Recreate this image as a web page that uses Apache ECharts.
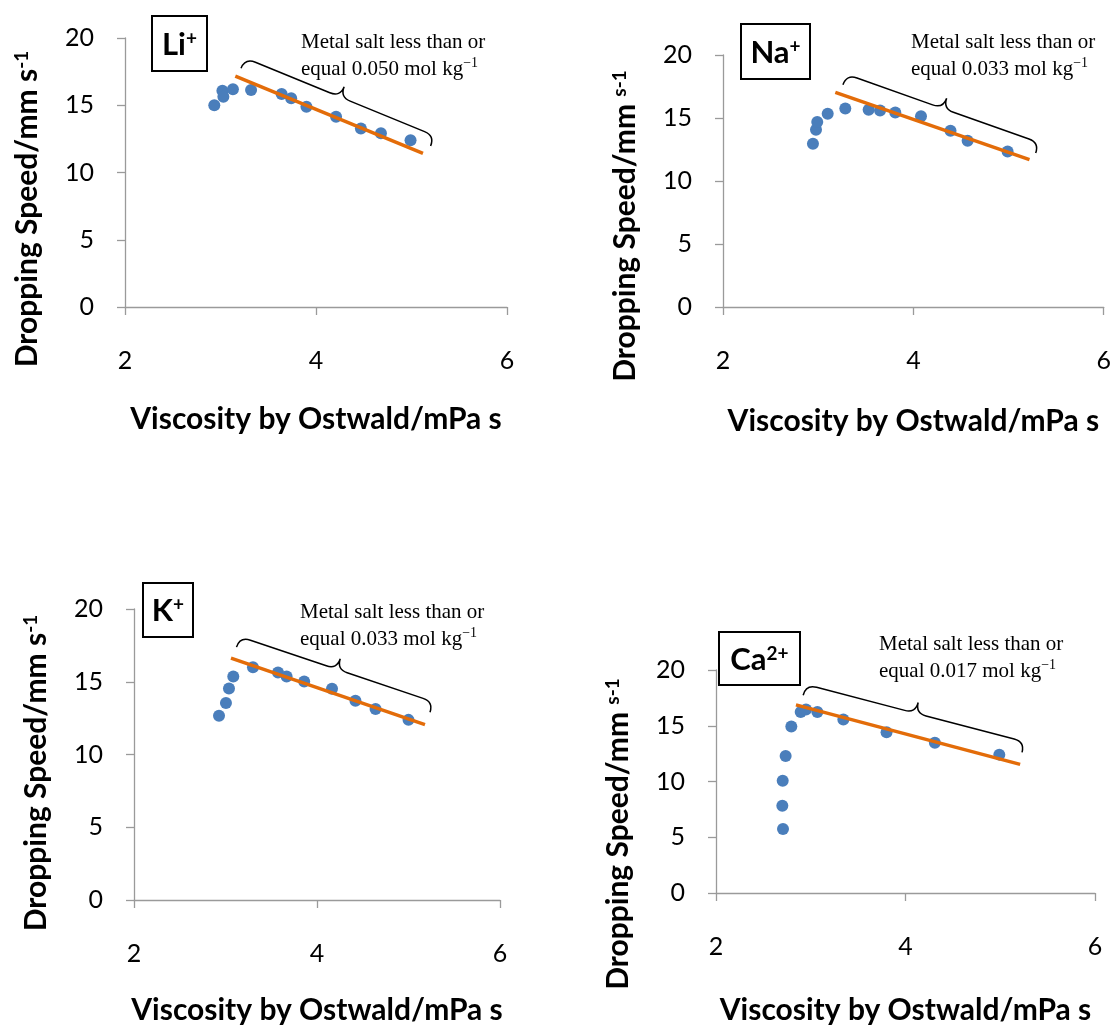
<!DOCTYPE html>
<html><head><meta charset="utf-8">
<script src="https://cdn.jsdelivr.net/npm/echarts@6/dist/echarts.min.js"></script>
<style>html,body{margin:0;padding:0;background:#fff}#c{width:1114px;height:1026px}</style>
</head><body><div id="c"></div>
<script>
// ---- data ----
const liX = [2.935, 3.02, 3.03, 3.13, 3.32, 3.64, 3.74, 3.90, 4.21, 4.47, 4.68, 4.99];
const liY = [15.0, 16.08, 15.64, 16.19, 16.13, 15.84, 15.52, 14.89, 14.15, 13.28, 12.91, 12.39];
const liTrendX = [3.155, 5.12];
const liTrendY = [17.17, 11.43];

const naX = [2.945, 2.977, 2.99, 3.10, 3.285, 3.53, 3.65, 3.81, 4.08, 4.39, 4.57, 4.99];
const naY = [12.96, 14.07, 14.68, 15.34, 15.76, 15.66, 15.60, 15.44, 15.13, 13.99, 13.20, 12.35];
const naTrendX = [3.18, 5.22];
const naTrendY = [17.03, 11.69];

const kX = [2.929, 3.005, 3.038, 3.085, 3.30, 3.574, 3.668, 3.86, 4.164, 4.42, 4.64, 5.00];
const kY = [12.67, 13.54, 14.54, 15.36, 16.0, 15.64, 15.36, 15.02, 14.52, 13.70, 13.13, 12.38];
const kTrendX = [3.06, 5.18];
const kTrendY = [16.62, 12.05];

const caX = [2.707, 2.70, 2.704, 2.735, 2.795, 2.894, 2.95, 3.07, 3.344, 3.80, 4.31, 4.99];
const caY = [5.74, 7.83, 10.06, 12.29, 14.93, 16.23, 16.46, 16.23, 15.56, 14.41, 13.48, 12.41];
const caTrendX = [2.844, 5.21];
const caTrendY = [16.87, 11.54];

// brace end points (data coords): [x0, y0, x1, y1]
const liBrace = [3.215, 17.75, 5.20, 11.97];
const naBrace = [3.26, 17.64, 5.285, 12.22];
const kBrace = [3.12, 17.38, 5.235, 12.9];
const caBrace = [2.92, 17.74, 5.23, 12.61];

const ionLabels = ['Li', 'Na', 'K', 'Ca'];
const ionCharges = ['+', '+', '+', '2+'];
const concLabels = ['0.050', '0.033', '0.033', '0.017'];
const xTitle = 'Viscosity by Ostwald/mPa s';
const yMin = 0, yMax = 20, yInterval = 5;
const xMin = 2, xMax = 6, xInterval = 2;

// ---- layout ----
const grids = [
  {left: 125, top: 38, width: 382, height: 269},
  {left: 723, top: 55, width: 381, height: 252},
  {left: 134, top: 609, width: 366, height: 292},
  {left: 716, top: 670, width: 379, height: 230}
];
const xNameGaps = [97, 99, 95, 102];
const panels = [
  {x: liX, y: liY, tx: liTrendX, ty: liTrendY, brace: liBrace},
  {x: naX, y: naY, tx: naTrendX, ty: naTrendY, brace: naBrace},
  {x: kX, y: kY, tx: kTrendX, ty: kTrendY, brace: kBrace},
  {x: caX, y: caY, tx: caTrendX, ty: caTrendY, brace: caBrace}
];
const SANS = 'Lato, "Open Sans", sans-serif';
const SERIF = '"Liberation Serif", "DejaVu Serif", serif';
const AXIS_COLOR = '#9a9a9a';

const xAxes = [], yAxes = [], series = [];
grids.forEach((g, i) => {
  xAxes.push({
    type: 'value', gridIndex: i, min: xMin, max: xMax, interval: xInterval,
    axisLine: {show: true, lineStyle: {color: AXIS_COLOR, width: 1.3}},
    axisTick: {show: true, inside: false, length: 8, lineStyle: {color: AXIS_COLOR, width: 1.3}},
    splitLine: {show: false},
    axisLabel: {fontFamily: SANS, fontSize: 25, color: '#000', margin: 41},
    name: xTitle, nameLocation: 'middle', nameGap: xNameGaps[i],
    nameTextStyle: {fontFamily: SANS, fontWeight: 'bold', fontSize: 30, color: '#000'}
  });
  yAxes.push({
    type: 'value', gridIndex: i, min: yMin, max: yMax, interval: yInterval,
    axisLine: {show: true, lineStyle: {color: AXIS_COLOR, width: 1.3}},
    axisTick: {show: true, inside: false, length: 8, lineStyle: {color: AXIS_COLOR, width: 1.3}},
    splitLine: {show: false},
    axisLabel: {fontFamily: SANS, fontSize: 25, color: '#000', margin: 31}
  });
  const p = panels[i];
  series.push({
    type: 'scatter', xAxisIndex: i, yAxisIndex: i, symbolSize: 12,
    itemStyle: {color: '#4a7ebb', opacity: 1}, z: 2,
    data: p.x.map((v, k) => [v, p.y[k]])
  });
  series.push({
    type: 'line', xAxisIndex: i, yAxisIndex: i, symbol: 'none', z: 3,
    lineStyle: {color: '#e36c09', width: 3.5},
    data: p.tx.map((v, k) => [v, p.ty[k]])
  });
  series.push({
    type: 'custom', xAxisIndex: i, yAxisIndex: i, z: 4, clip: false,
    data: [p.brace],
    renderItem: function (params, api) {
      const a = api.coord([api.value(0), api.value(1)]);
      const b = api.coord([api.value(2), api.value(3)]);
      const dx = b[0] - a[0], dy = b[1] - a[1];
      const L = Math.sqrt(dx * dx + dy * dy);
      const u = [dx / L, dy / L];
      const n = [u[1], -u[0]];
      const h = 11;
      const m = [(a[0] + b[0]) / 2, (a[1] + b[1]) / 2];
      const P = (base, su, sn) => [base[0] + u[0] * su + n[0] * sn, base[1] + u[1] * su + n[1] * sn];
      const f = q => q[0].toFixed(2) + ' ' + q[1].toFixed(2);
      const d = 'M' + f(a) +
        ' Q' + f(P(a, 0, h)) + ' ' + f(P(a, h, h)) +
        ' L' + f(P(m, -h, h)) +
        ' Q' + f(P(m, 0, h)) + ' ' + f(P(m, 0, 2 * h)) +
        ' Q' + f(P(m, 0, h)) + ' ' + f(P(m, h, h)) +
        ' L' + f(P(b, -h, h)) +
        ' Q' + f(P(b, 0, h)) + ' ' + f(b);
      return {type: 'path', shape: {pathData: d}, style: {stroke: '#000', fill: null, lineWidth: 1.5}};
    }
  });
});

// ---- annotations ----
const boxes = [
  {x: 152, y: 16, w: 55, h: 55},
  {x: 741, y: 24, w: 69, h: 55},
  {x: 143, y: 583, w: 50, h: 54},
  {x: 719, y: 632, w: 81, h: 53}
];
const notePos = [[301, 29], [911, 29], [300, 599], [879, 631]];
const yTitlePos = [[27, 209], [625, 226], [36, 773], [618, 834]];
const yTitleTexts = [
  '{t|Dropping Speed/mm s}{s|-1}',
  '{t|Dropping Speed/mm }{s2|s-1}',
  '{t|Dropping Speed/mm s}{s|-1}',
  '{t|Dropping Speed/mm }{s2|s-1}'
];
const graphic = [];
boxes.forEach((b, i) => {
  graphic.push({type: 'rect', shape: {x: b.x, y: b.y, width: b.w, height: b.h},
    style: {fill: '#fff', stroke: '#000', lineWidth: 2}, z: 10});
  graphic.push({type: 'text', x: b.x + b.w / 2, y: b.y + b.h / 2 + 1, z: 11,
    style: {text: '{a|' + ionLabels[i] + '}{b|' + ionCharges[i] + '}', align: 'center', verticalAlign: 'middle',
      rich: {a: {fontFamily: SANS, fontWeight: 'bold', fontSize: 31, color: '#000', verticalAlign: 'bottom'},
             b: {fontFamily: SANS, fontWeight: 'bold', fontSize: 19, color: '#000', verticalAlign: 'top'}}}});
  graphic.push({type: 'text', x: notePos[i][0], y: notePos[i][1], z: 11,
    style: {text: 'Metal salt less than or\nequal ' + concLabels[i] + ' mol kg{s|\u22121}',
      fontFamily: SERIF, fontSize: 21, fill: '#000', lineHeight: 27, align: 'left', verticalAlign: 'top',
      rich: {s: {fontFamily: SERIF, fontSize: 14, verticalAlign: 'top', lineHeight: 27, padding: [0, 0, 8, 0]}}}});
  graphic.push({type: 'text', x: yTitlePos[i][0], y: yTitlePos[i][1], rotation: Math.PI / 2, z: 11,
    style: {text: yTitleTexts[i], align: 'center', verticalAlign: 'middle',
      rich: {t: {fontFamily: SANS, fontWeight: 'bold', fontSize: 30, color: '#000', verticalAlign: 'bottom'},
             s: {fontFamily: SANS, fontWeight: 'bold', fontSize: 19, color: '#000', verticalAlign: 'top'},
             s2: {fontFamily: SANS, fontWeight: 'bold', fontSize: 19, color: '#000', verticalAlign: 'top'}}}});
});

const chart = echarts.init(document.getElementById('c'), null, {renderer: 'canvas'});
chart.setOption({
  animation: false,
  backgroundColor: '#fff',
  grid: grids.map(g => Object.assign({containLabel: false}, g)),
  xAxis: xAxes, yAxis: yAxes, series: series, graphic: graphic
});
</script></body></html>
